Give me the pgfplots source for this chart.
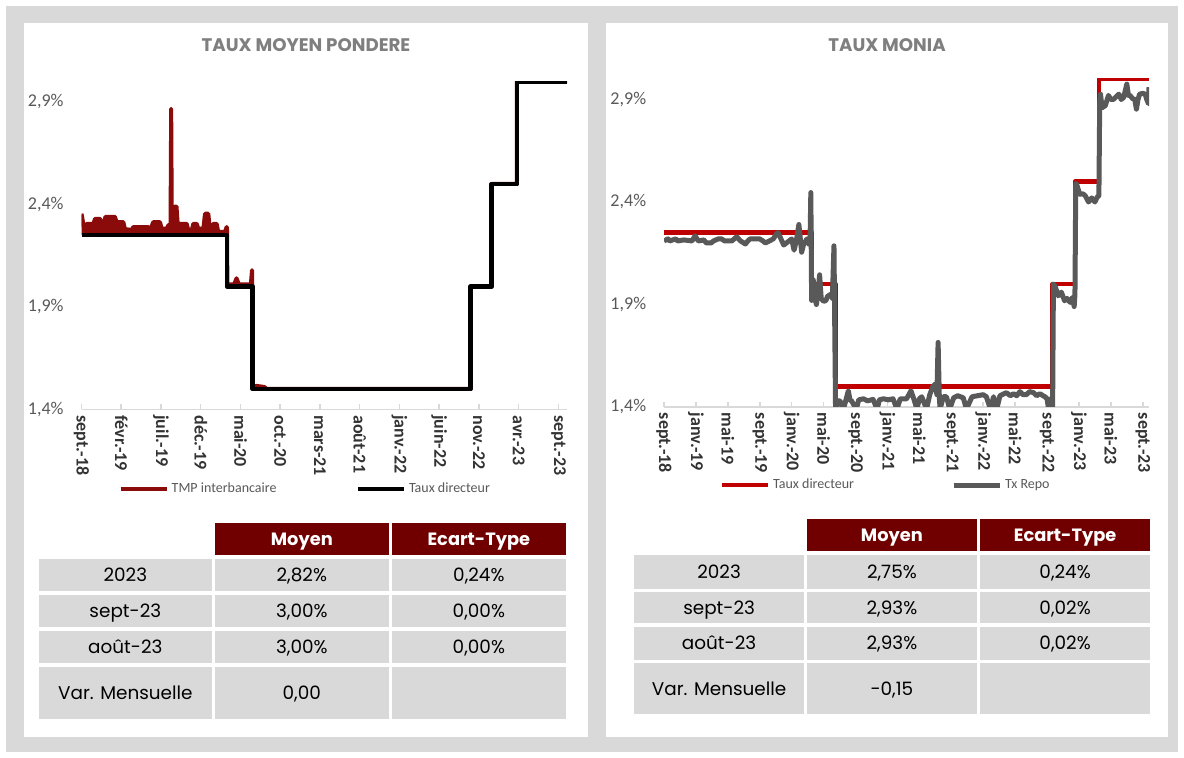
\documentclass[border=0pt]{standalone}
\usepackage{pgfplots}
\pgfplotsset{compat=1.18}
\usepackage{fontspec}
\setmainfont{Carlito}
\newfontfamily\pop{Poppins}
\definecolor{bggray}{HTML}{D9D9D9}
\definecolor{axisgray}{HTML}{D9D9D9}
\definecolor{headred}{HTML}{700000}
\definecolor{tmpred}{HTML}{8B0A0A}
\definecolor{tdred}{HTML}{C00000}
\definecolor{repogray}{HTML}{595959}
\definecolor{titlegray}{HTML}{7F7F7F}
\definecolor{ylab}{HTML}{595959}
\definecolor{xlab}{HTML}{333333}
\definecolor{leg}{HTML}{595959}
\newcommand{\tabfont}{\pop\fontsize{9.2}{11}\selectfont}
\newcommand{\cell}[5]{\fill[bggray] (#1,#2) rectangle (#3,#4);
  \node[anchor=base, inner sep=0pt, font=\tabfont, text=black] at ({(#1+#3)/2},{(#2+#4)/2+6.5}) {#5};}
\newcommand{\hcell}[5]{\fill[headred] (#1,#2) rectangle (#3,#4);
  \node[anchor=base, inner sep=0pt, font=\pop\fontsize{8.9}{11}\selectfont\bfseries, text=white] at ({(#1+#3)/2},{(#2+#4)/2+6.5}) {#5};}
\pgfplotsset{
  chartbase/.style={
    anchor=south west, scale only axis,
    ymin=1.4, ymax=3.0,
    axis x line*=bottom, axis y line*=left,
    y axis line style={draw=none},
    x axis line style={draw=axisgray, line width=0.75pt, -},
    ytick={1.4,1.9,2.4,2.9}, yticklabels={{1,4\%},{1,9\%},{2,4\%},{2,9\%}},
    xtick align=inside, major tick length=2.5pt,
    xtick style={draw=axisgray, line width=0.75pt},
    ytick style={draw=none},
    xticklabel style={rotate=-90, anchor=west, inner sep=0pt, font=\fontsize{9}{10}\selectfont\bfseries, text=xlab},
    xticklabel shift=2.75pt,
    yticklabel style={anchor=east, inner sep=0pt, font=\fontsize{9}{10}\selectfont, text=ylab},
    yticklabel shift=8.75pt,
    legend image code/.code={\draw[##1, line cap=butt] (0pt,0pt) -- (23pt,0pt);},
    line join=round,
  }
}
\begin{document}
\begin{tikzpicture}
\path[use as bounding box] (0pt,0pt) rectangle (592pt,-379pt);
\begin{scope}[x=0.5pt,y=-0.5pt]
\fill[white] (0,0) rectangle (1184,758);
\fill[bggray] (6,6) rectangle (1178,752);
\fill[white] (24,23) rectangle (588,737);
\fill[white] (606,23) rectangle (1168,737);
\node[anchor=base, inner sep=0pt, font=\pop\fontsize{9.1}{11}\selectfont\bfseries, text=titlegray] at (306,51.5) {TAUX MOYEN PONDERE};
\node[anchor=base, inner sep=0pt, font=\pop\fontsize{9.1}{11}\selectfont\bfseries, text=titlegray] at (887,51.5) {TAUX MONIA};
% left table
\hcell{215}{522.7}{388.6}{555}{Moyen}
\hcell{392}{522.7}{565.7}{555}{Ecart-Type}
\cell{38.9}{559}{211.8}{591}{2023}
\cell{215}{559}{388.6}{591}{2,82\%}
\cell{392}{559}{565.7}{591}{0,24\%}
\cell{38.9}{595}{211.8}{627.3}{sept-23}
\cell{215}{595}{388.6}{627.3}{3,00\%}
\cell{392}{595}{565.7}{627.3}{0,00\%}
\cell{38.9}{631.3}{211.8}{663.3}{août-23}
\cell{215}{631.3}{388.6}{663.3}{3,00\%}
\cell{392}{631.3}{565.7}{663.3}{0,00\%}
\cell{38.9}{667.3}{211.8}{719}{Var. Mensuelle}
\cell{215}{667.3}{388.6}{719}{0,00}
\cell{392}{667.3}{565.7}{719}{}
% right table
\hcell{807}{519.3}{976.8}{550.7}{Moyen}
\hcell{980.4}{519.3}{1149.8}{550.7}{Ecart-Type}
\cell{634}{555}{804.2}{589}{2023}
\cell{807}{555}{976.8}{589}{2,75\%}
\cell{980.4}{555}{1149.8}{589}{0,24\%}
\cell{634}{592.3}{804.2}{623.3}{sept-23}
\cell{807}{592.3}{976.8}{623.3}{2,93\%}
\cell{980.4}{592.3}{1149.8}{623.3}{0,02\%}
\cell{634}{626.7}{804.2}{660}{août-23}
\cell{807}{626.7}{976.8}{660}{2,93\%}
\cell{980.4}{626.7}{1149.8}{660}{0,02\%}
\cell{634}{663.3}{804.2}{714.3}{Var. Mensuelle}
\cell{807}{663.3}{976.8}{714.3}{-0,15}
\cell{980.4}{663.3}{1149.8}{714.3}{}
\end{scope}

% ---------------- left chart
\begin{axis}[chartbase,
  at={(40.75pt,-204.75pt)}, width=242.75pt, height=164pt,
  xmin=0, xmax=61.07,
  xtick={0,5,...,60},
  xticklabels={sept.-18,févr.-19,juil.-19,déc.-19,mai-20,oct.-20,mars-21,août-21,janv.-22,juin-22,nov.-22,avr.-23,sept.-23},
  legend style={at={(0.462,-0.242)}, anchor=center, draw=none, fill=none, legend columns=2,
    font=\fontsize{7}{8}\selectfont, text=leg, inner sep=0pt, nodes={inner sep=1.5pt},
    /tikz/every even column/.append style={column sep=38pt}},
]
\addplot[forget plot, fill=tmpred, draw=none] coordinates {
(0,2.355)(0.3,2.29)(0.5,2.28)(0.65,2.306)(1.5,2.306)(1.7,2.33)(2.33,2.33)(2.54,2.314)(2.9,2.314)(3.0,2.34)(4.2,2.34)(4.42,2.314)(5.26,2.314)(5.47,2.28)(6.31,2.276)(6.52,2.29)(8.4,2.29)(8.62,2.274)(9.03,2.314)(9.87,2.314)(10.08,2.282)(10.71,2.282)(10.95,2.30)(11.2,2.30)(11.28,2.867)(11.36,2.30)(11.45,2.30)(11.7,2.39)(11.95,2.39)(12.1,2.306)(13.23,2.306)(13.44,2.274)(13.86,2.274)(14.07,2.306)(14.49,2.306)(14.7,2.282)(15.33,2.282)(15.54,2.355)(15.95,2.355)(16.16,2.274)(16.37,2.274)(16.58,2.306)(17.0,2.306)(17.2,2.266)(18.05,2.266)(18.26,2.29)(18.3,2.29)(18.3,2.25)(0,2.25)};
\addplot[tmpred, line width=2pt] coordinates {
(0,2.355)(0.3,2.29)(0.5,2.28)(0.65,2.306)(1.5,2.306)(1.7,2.33)(2.33,2.33)(2.54,2.314)(2.9,2.314)(3.0,2.34)(4.2,2.34)(4.42,2.314)(5.26,2.314)(5.47,2.28)(6.31,2.276)(6.52,2.29)(8.4,2.29)(8.62,2.274)(9.03,2.314)(9.87,2.314)(10.08,2.282)(10.71,2.282)(10.95,2.30)(11.2,2.30)(11.28,2.867)(11.36,2.30)(11.45,2.30)(11.7,2.39)(11.95,2.39)(12.1,2.306)(13.23,2.306)(13.44,2.274)(13.86,2.274)(14.07,2.306)(14.49,2.306)(14.7,2.282)(15.33,2.282)(15.54,2.355)(15.95,2.355)(16.16,2.274)(16.37,2.274)(16.58,2.306)(17.0,2.306)(17.2,2.266)(18.05,2.266)(18.26,2.29)(18.3,2.29)
(18.35,2.01)(19.2,2.01)(19.5,2.04)(19.8,2.01)(21.3,2.01)(21.45,2.08)(21.55,1.51)(22.0,1.515)(23.0,1.51)(23.3,1.5)(48.95,1.5)(48.95,2.0)(51.6,2.0)(51.6,2.5)(54.75,2.5)(54.75,3.0)(61.07,3.0)};
\addlegendentry{TMP interbancaire}
\addplot[black, line width=2.25pt] coordinates {
(0,2.25)(18.3,2.25)(18.3,2.0)(21.5,2.0)(21.5,1.5)(48.95,1.5)(48.95,2.0)(51.6,2.0)(51.6,2.5)(54.75,2.5)(54.75,3.0)(61.07,3.0)};
\addlegendentry{Taux directeur}
\end{axis}

% ---------------- right chart
\begin{axis}[chartbase,
  at={(332pt,-203.5pt)}, width=242.5pt, height=164pt,
  xmin=0, xmax=60.78,
  xtick={0,4,...,60},
  xticklabels={sept.-18,janv.-19,mai-19,sept.-19,janv.-20,mai-20,sept.-20,janv.-21,mai-21,sept.-21,janv.-22,mai-22,sept.-22,janv.-23,mai-23,sept.-23},
  legend style={at={(0.458,-0.238)}, anchor=center, draw=none, fill=none, legend columns=2,
    font=\fontsize{7}{8}\selectfont, text=leg, inner sep=0pt, nodes={inner sep=1.5pt},
    /tikz/every even column/.append style={column sep=47pt}},
]
\addplot[tdred, line width=2.25pt] coordinates {
(0,2.25)(18.5,2.25)(18.5,2.0)(21.5,2.0)(21.5,1.5)(48.7,1.5)(48.7,2.0)(51.5,2.0)(51.5,2.5)(54.5,2.5)(54.5,3.0)(60.78,3.0)};
\addlegendentry{Taux directeur}
\addplot[repogray, line width=2.5pt] coordinates {
(0,2.21)(0.5,2.22)(0.7,2.21)(1.5,2.22)(1.7,2.21)(2.5,2.215)(3.5,2.21)(3.9,2.235)(4.3,2.21)(5.0,2.215)(5.3,2.20)(5.9,2.20)(6.2,2.21)(6.8,2.22)(7.2,2.22)(7.6,2.21)(8.5,2.21)(9.1,2.23)(9.6,2.21)(10.2,2.195)(10.5,2.21)(10.8,2.22)(12.0,2.22)(12.4,2.21)(12.7,2.20)(13.2,2.21)(13.7,2.22)(14.1,2.245)(14.3,2.25)(14.6,2.225)(15.0,2.19)(15.5,2.205)(16.0,2.22)(16.3,2.165)(16.6,2.215)(16.9,2.29)(17.1,2.215)(17.25,2.155)(17.5,2.195)(17.7,2.205)(17.9,2.22)(18.1,2.195)(18.3,2.205)(18.4,2.446)
(18.5,1.92)(18.7,2.02)(18.9,1.93)(19.1,1.90)(19.3,1.96)(19.5,2.045)(19.7,1.93)(20.0,1.915)(20.3,1.92)(20.5,1.94)(20.9,1.95)(21.1,1.93)(21.3,2.186)
(21.5,1.38)(21.8,1.43)(22.05,1.43)(22.5,1.39)(22.8,1.435)(23.1,1.479)(23.3,1.435)(23.5,1.43)(24.1,1.39)(24.4,1.435)(25.0,1.44)(25.5,1.43)(26.2,1.437)(26.7,1.39)(27.0,1.435)(27.5,1.44)(28.1,1.435)(28.7,1.44)(29.2,1.39)(29.6,1.44)(30.4,1.44)(30.95,1.479)(31.3,1.44)(31.7,1.39)(32.0,1.44)(32.3,1.45)(32.9,1.39)(33.3,1.46)(33.7,1.50)(34.0,1.512)(34.2,1.46)(34.35,1.715)(34.5,1.45)(34.6,1.39)(35.0,1.45)(35.4,1.45)(35.8,1.39)(36.3,1.445)(36.8,1.455)(37.5,1.445)(37.9,1.39)(38.6,1.45)(39.3,1.455)(40.0,1.46)(40.4,1.45)(40.9,1.39)(41.3,1.45)(41.7,1.39)(42.1,1.455)(42.9,1.47)(43.4,1.455)(43.8,1.465)(44.2,1.455)(44.6,1.475)(45.0,1.46)(45.4,1.46)(45.8,1.475)(46.3,1.47)(46.7,1.455)(47.1,1.465)(47.5,1.455)(47.75,1.45)(48.0,1.44)(48.2,1.39)(48.5,1.44)(48.7,1.39)
(48.8,2.0)(49.0,1.99)(49.4,1.942)(49.8,1.96)(50.2,1.918)(50.5,1.93)(50.9,1.91)(51.2,1.935)(51.4,1.89)(51.5,1.95)
(51.6,2.49)(51.7,2.487)(52.1,2.438)(52.5,2.44)(52.8,2.43)(53.2,2.40)(53.6,2.42)(54.0,2.40)(54.3,2.425)(54.5,2.43)
(54.6,2.88)(54.7,2.926)(54.9,2.86)(55.3,2.87)(55.7,2.92)(56.0,2.90)(56.3,2.90)(56.7,2.915)(57.0,2.926)(57.3,2.90)(57.6,2.91)(58.0,2.975)(58.2,2.92)(58.4,2.92)(58.7,2.905)(59.0,2.90)(59.2,2.853)(59.4,2.90)(59.6,2.926)(60.0,2.93)(60.3,2.926)(60.5,2.90)(60.7,2.88)(60.78,2.96)};
\addlegendentry{Tx Repo}
\end{axis}
\end{tikzpicture}
\end{document}
